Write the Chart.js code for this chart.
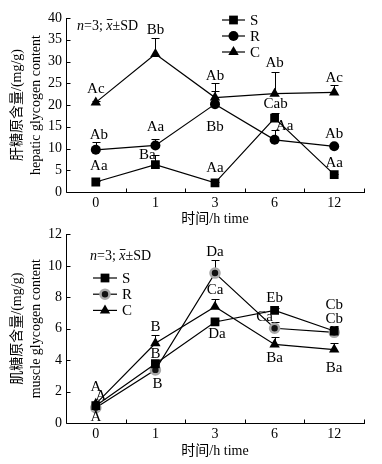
<!DOCTYPE html>
<html><head><meta charset="utf-8">
<script src="https://cdn.jsdelivr.net/npm/chart.js@4/dist/chart.umd.min.js"></script>
<style>
html,body{margin:0;padding:0;background:#fff;width:382px;height:464px;overflow:hidden;}
#w1{position:absolute;left:0;top:0;width:382px;height:232px;}
#w2{position:absolute;left:0;top:222px;width:382px;height:242px;}
</style></head><body>
<div id="w1"><canvas id="c1"></canvas></div>
<div id="w2"><canvas id="c2"></canvas></div>
<script>
// ---------- DATA ----------
const categories = ['0', '1', '3', '6', '12'];
const seriesNames = ['S', 'R', 'C'];

// Hepatic glycogen (mg/g)
const hepaticS = [2.3, 6.3, 2.1, 17.0, 4.0];
const hepaticR = [9.7, 10.7, 20.2, 12.0, 10.5];
const hepaticC = [20.6, 31.7, 21.7, 22.6, 22.9];
const hepaticSsd = [0.2, 2.1, 0.2, 1.15, 0.2];
const hepaticRsd = [1.7, 1.4, 3.0, 2.3, 0.3];
const hepaticCsd = [0.3, 3.7, 3.3, 5.1, 1.7];
const hepaticSlabels = ['Aa', 'Ba', 'Aa', 'Cab', 'Aa'];
const hepaticRlabels = ['Ab', 'Aa', 'Bb', 'Aa', 'Ab'];
const hepaticClabels = ['Ac', 'Bb', 'Ab', 'Ab', 'Ac'];
const hepaticTicks = [0, 5, 10, 15, 20, 25, 30, 35, 40];

// Muscle glycogen (mg/g)
const muscleS = [1.1, 3.77, 6.43, 7.17, 5.85];
const muscleR = [0.97, 3.38, 9.54, 6.03, 5.77];
const muscleC = [1.22, 5.07, 7.4, 5.0, 4.67];
const muscleSsd = [0.1, 0.15, 0.15, 0.15, 0.2];
const muscleRsd = [0.1, 0.15, 0.8, 0.37, 0.42];
const muscleCsd = [0.1, 0.5, 0.52, 0.47, 0.41];
const muscleSlabels = ['A', 'B', 'Da', 'Eb', 'Cb'];
const muscleRlabels = ['A', 'B', 'Da', 'Ca', 'Cb'];
const muscleClabels = ['A', 'B', 'Ca', 'Ba', 'Ba'];
const muscleTicks = [0, 2, 4, 6, 8, 10, 12];

// ---------- STYLE / LAYOUT (not data) ----------
const FONT = "'Liberation Serif','Noto Sans CJK SC',serif";
// pixel offsets of significance letters relative to their point
const hepaticOffsets = {
  S: [[3,-16],[-8,-10],[0,-15],[1,-14],[0,-12]],
  R: [[3,-15],[0,-18],[0,23],[10,-14],[0,-12]],
  C: [[0,-13],[0,-24],[0,-22],[0,-31],[0,-14]]
};
const muscleOffsets = {
  S: [[5,-10],[0,-10],[2,12],[0,-12],[0,-26]],
  R: [[0,9],[2,14],[0,-21],[-10,-11],[0,-13]],
  C: [[0,-17],[0,-16],[0,-17],[0,14],[0,18]]
};

function drawMarker(ctx, style, x, y, r, fill, stroke, bw) {
  ctx.save();
  ctx.fillStyle = fill; ctx.strokeStyle = stroke; ctx.lineWidth = bw;
  ctx.beginPath();
  if (style === 'rect') {
    const s = Math.SQRT1_2 * r;
    ctx.rect(x - s, y - s, 2 * s, 2 * s);
  } else if (style === 'triangle') {
    let a = 0;
    for (let k = 0; k < 3; k++) {
      const px = x + Math.sin(a) * r, py = y - Math.cos(a) * r;
      if (k === 0) ctx.moveTo(px, py); else ctx.lineTo(px, py);
      a += 2 * Math.PI / 3;
    }
    ctx.closePath();
  } else {
    ctx.arc(x, y, r, 0, Math.PI * 2);
  }
  ctx.fill();
  if (bw > 0) ctx.stroke();
  ctx.restore();
}

const errorBarPlugin = {
  id: 'errbars',
  beforeDatasetsDraw(chart) {
    const ctx = chart.ctx, ys = chart.scales.y;
    chart.data.datasets.forEach((ds, di) => {
      const meta = chart.getDatasetMeta(di);
      meta.data.forEach((pt, i) => {
        const v = ds.data[i], sd = ds.sd[i];
        const y0 = ys.getPixelForValue(v), y1 = ys.getPixelForValue(v + sd);
        const x = Math.round(pt.x) + 0.5, yc = Math.round(y1) + 0.5;
        ctx.save();
        ctx.strokeStyle = '#000'; ctx.lineWidth = 1;
        ctx.beginPath();
        ctx.moveTo(x, y0); ctx.lineTo(x, yc);
        ctx.moveTo(x - 4, yc); ctx.lineTo(x + 4, yc);
        ctx.stroke();
        ctx.restore();
      });
    });
  }
};

const letterPlugin = {
  id: 'letters',
  afterDatasetsDraw(chart) {
    const ctx = chart.ctx;
    ctx.save();
    ctx.font = '15px ' + FONT;
    ctx.fillStyle = '#000';
    ctx.textAlign = 'center';
    ctx.textBaseline = 'middle';
    chart.data.datasets.forEach((ds, di) => {
      const meta = chart.getDatasetMeta(di);
      meta.data.forEach((pt, i) => {
        const off = ds.letterOffsets[i];
        ctx.fillText(ds.letters[i], pt.x + off[0], pt.y + off[1]);
      });
    });
    ctx.restore();
  }
};

const axesPlugin = {
  id: 'axesTicks',
  afterDraw(chart) {
    const ctx = chart.ctx, a = chart.chartArea, xs = chart.scales.x, ys = chart.scales.y;
    ctx.save();
    ctx.strokeStyle = '#000'; ctx.lineWidth = 1;
    ctx.beginPath();
    const L = Math.round(a.left) + 0.5, B = Math.round(a.bottom) + 0.5;
    ctx.moveTo(L, Math.round(a.top)); ctx.lineTo(L, B);
    ctx.moveTo(L, B); ctx.lineTo(Math.round(a.right) + 1, B);
    ys.ticks.forEach(t => {
      const py = Math.round(ys.getPixelForValue(t.value)) + 0.5;
      ctx.moveTo(L, py); ctx.lineTo(L + 4, py);
    });
    const n = chart.data.labels.length;
    const step = xs.getPixelForValue(1) - xs.getPixelForValue(0);
    for (let i = 0; i < n; i++) {
      const px = Math.round(xs.getPixelForValue(i) + step / 2) + 0.5;
      ctx.moveTo(px, B); ctx.lineTo(px, B - 4);
    }
    ctx.stroke();
    ctx.restore();
  }
};

const overlayPlugin = {
  id: 'overlay',
  afterDraw(chart, args, o) {
    const ctx = chart.ctx;
    ctx.save();
    ctx.fillStyle = '#000'; ctx.strokeStyle = '#000';
    ctx.textBaseline = 'middle'; ctx.textAlign = 'left';
    // annotation "n=3; x̄±SD"
    let x = o.note.x; const y = o.note.y;
    const parts = [['n', 'italic '], ['=3; ', ''], ['x', 'italic '], ['\u00B1SD', '']];
    parts.forEach(([t, st]) => {
      ctx.font = st + '14px ' + FONT;
      const w = ctx.measureText(t).width;
      ctx.fillText(t, x, y);
      if (t === 'x') {
        ctx.lineWidth = 0.9;
        ctx.beginPath(); ctx.moveTo(x + 0.5, y - 6.5); ctx.lineTo(x + w, y - 6.5); ctx.stroke();
      }
      x += w;
    });
    // legend
    chart.data.datasets.forEach((ds, i) => {
      const ly = o.legend.y + i * o.legend.gap;
      ctx.lineWidth = 1.2;
      ctx.beginPath(); ctx.moveTo(o.legend.x, ly); ctx.lineTo(o.legend.x + o.legend.len, ly); ctx.stroke();
      drawMarker(ctx, ds.pointStyle, o.legend.x + o.legend.len / 2, ly, ds.pointRadius,
        ds.pointBackgroundColor, ds.pointBorderColor, ds.pointBorderWidth);
      ctx.font = '15px ' + FONT;
      ctx.fillStyle = '#000';
      ctx.fillText(ds.label, o.legend.x + o.legend.len + 5, ly + 1);
    });
    ctx.restore();
  }
};

function makeDataset(name, data, sd, letters, offsets, idx, muscle) {
  const styles = ['rect', 'circle', 'triangle'];
  const radii = [6.2, 5.0, 6.0];
  let bg = '#000', bc = '#000', bw = 0;
  if (muscle && name === 'R') { bg = '#111'; bc = '#a8a8a8'; bw = 2.6; }
  return {
    label: name, data: data, sd: sd, letters: letters, letterOffsets: offsets,
    borderColor: '#000', borderWidth: 1.2, fill: false, tension: 0,
    pointStyle: styles[idx], pointRadius: muscle && name === 'R' ? 4.5 : radii[idx],
    pointBackgroundColor: bg, pointBorderColor: bc, pointBorderWidth: bw,
    pointHoverRadius: radii[idx]
  };
}

function makeChart(id, cfg) {
  return new Chart(document.getElementById(id), {
    type: 'line',
    data: { labels: categories, datasets: cfg.datasets },
    options: {
      responsive: true, maintainAspectRatio: false, animation: false,
      layout: { padding: { top: cfg.padTop, right: 18, left: 0, bottom: 0 } },
      plugins: { legend: { display: false }, tooltip: { enabled: false },
        overlay: { note: cfg.note, legend: cfg.legend } },
      scales: {
        x: {
          type: 'category', offset: true,
          grid: { display: false, drawTicks: false }, border: { display: false },
          ticks: { color: '#000', font: { family: FONT, size: 14 }, padding: 3, maxRotation: 0 },
          title: { display: true, text: '时间/h time', color: '#000',
            font: { family: FONT, size: 14 }, padding: { top: 0, bottom: 4 } },
          afterFit: s => { s.height = cfg.xHeight; }
        },
        y: {
          min: cfg.ticks[0], max: cfg.ticks[cfg.ticks.length - 1],
          afterBuildTicks: s => { s.ticks = cfg.ticks.map(v => ({ value: v })); },
          grid: { display: false, drawTicks: false }, border: { display: false },
          ticks: { color: '#000', font: { family: FONT, size: 14 }, padding: 4 },
          title: { display: true, text: cfg.yTitle, color: '#000',
            font: { family: FONT, size: 14, lineHeight: '19px' }, padding: { top: 7.5, bottom: 0 } },
          afterFit: s => { s.width = 66; }
        }
      }
    },
    plugins: [errorBarPlugin, letterPlugin, axesPlugin, overlayPlugin]
  });
}

makeChart('c1', {
  datasets: [
    makeDataset('S', hepaticS, hepaticSsd, hepaticSlabels, hepaticOffsets.S, 0, false),
    makeDataset('R', hepaticR, hepaticRsd, hepaticRlabels, hepaticOffsets.R, 1, false),
    makeDataset('C', hepaticC, hepaticCsd, hepaticClabels, hepaticOffsets.C, 2, false)
  ],
  ticks: hepaticTicks, padTop: 18, xHeight: 40,
  yTitle: ['肝糖原含量/(mg/g)', 'hepatic glycogen content'],
  note: { x: 77, y: 26 },
  legend: { x: 222, y: 20, gap: 16, len: 23 }
});

makeChart('c2', {
  datasets: [
    makeDataset('S', muscleS, muscleSsd, muscleSlabels, muscleOffsets.S, 0, true),
    makeDataset('R', muscleR, muscleRsd, muscleRlabels, muscleOffsets.R, 1, true),
    makeDataset('C', muscleC, muscleCsd, muscleClabels, muscleOffsets.C, 2, true)
  ],
  ticks: muscleTicks, padTop: 11, xHeight: 41,
  yTitle: ['肌糖原含量/(mg/g)', 'muscle glycogen content'],
  note: { x: 90, y: 34 },
  legend: { x: 93, y: 56, gap: 16.2, len: 24 }
});
</script>
</body></html>
